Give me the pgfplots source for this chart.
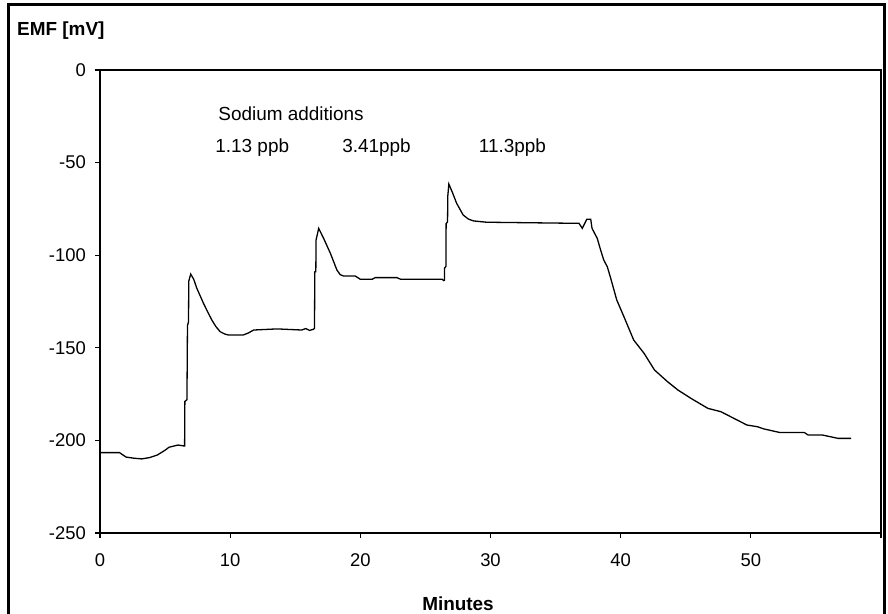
\documentclass[border=0pt]{standalone}
\usepackage{pgfplots}
\pgfplotsset{compat=1.18}
\usepackage{pgfplotstable}
\usepackage{fontspec}
\setmainfont{Liberation Sans}

% EMF trace
\pgfplotstableread{
t v
0 -206.6
1.5 -206.6
2.0 -209.0
2.6 -209.6
3.2 -210.0
3.8 -209.3
4.4 -207.9
5.0 -205.3
5.3 -203.7
5.7 -203.0
6.0 -202.5
6.45 -203.0
6.50 -203.0
6.52 -179
6.68 -178
6.72 -138
6.80 -136
6.82 -114
6.97 -110.2
7.2 -113
7.44 -117.9
7.7 -122
7.95 -126
8.3 -131
8.59 -135
8.9 -138.5
9.23 -141.3
9.6 -142.6
9.87 -143.1
11.0 -143.1
11.4 -142.0
11.8 -140.4
13.6 -139.8
15.5 -140.4
15.8 -139.6
16.1 -140.6
16.4 -140.0
16.48 -139.5
16.50 -109
16.58 -108.9
16.60 -91.8
16.8 -85.5
17.18 -90.9
17.7 -99
18.2 -108
18.45 -110.5
18.7 -111.2
19.6 -111.2
20.0 -113
20.9 -113
21.15 -112.1
22.8 -112.1
23.1 -113
26.3 -113
26.4 -113.7
26.46 -113.5
26.47 -107
26.58 -106
26.59 -83
26.70 -82
26.72 -68
26.8 -61.6
27.05 -65.7
27.4 -72
27.9 -78.3
28.3 -80.5
28.7 -81.5
29.7 -82.2
36.8 -82.8
37.05 -85.5
37.4 -80.6
37.7 -80.6
37.8 -85.5
38.2 -90.9
38.46 -97.2
38.7 -102.6
38.97 -106.2
39.2 -111.6
39.7 -124.2
40.25 -133.2
41.0 -145.8
41.8 -153
42.6 -162
43.6 -168.3
44.4 -172.8
45.4 -177.3
46.7 -182.7
47.7 -184.5
48.7 -188.1
49.7 -191.7
50.5 -192.6
51.0 -193.8
52.2 -195.7
54.1 -195.7
54.4 -197.1
55.5 -197.1
56.7 -198.9
57.7 -198.9
}\emfdata

\newcommand{\lbl}{\fontsize{18.5}{22}\selectfont}

\begin{document}
\begin{tikzpicture}
\useasboundingbox (0,0) rectangle (888bp,614bp);
\fill[white] (0,0) rectangle (888bp,614bp);

\begin{axis}[
    at={(100bp,81bp)}, anchor=south west,
    scale only axis, width=781bp, height=463bp,
    xmin=0, xmax=60, ymin=-250, ymax=0,
    xtick={0,10,...,60}, xticklabels={0,10,20,30,40,50,},
    ytick={-250,-200,...,0},
    axis line style={line width=1.2bp},
    tick style={line width=1.2bp, black},
    tick align=outside, major tick length=5bp,
    xtick pos=bottom, ytick pos=left,
    /pgf/number format/assume math mode=true,
    tick label style={font=\lbl, inner sep=0pt},
    yticklabel style={anchor=east, xshift=-9bp},
    xticklabel style={anchor=north, yshift=-15bp},
    clip=false,
]
\addplot[black, line width=1.3bp, mark=none] table[x=t, y=v] {\emfdata};

\node[anchor=base west, inner sep=0pt, font=\fontsize{19}{22}\selectfont] at (axis cs:9.08,-27) {Sodium additions};
\node[anchor=base west, inner sep=0pt, font=\fontsize{19}{22}\selectfont] at (axis cs:8.85,-44.3) {1.13 ppb};
\node[anchor=base west, inner sep=0pt, font=\fontsize{19}{22}\selectfont] at (axis cs:18.6,-44.3) {3.41ppb};
\node[anchor=base west, inner sep=0pt, font=\fontsize{19}{22}\selectfont] at (axis cs:29.1,-44.3) {11.3ppb};
\end{axis}

\node[anchor=base west, inner sep=0pt, font=\fontsize{19}{22}\selectfont\bfseries] at (17bp,578.4bp) {EMF [mV]};
\node[anchor=base, inner sep=0pt, font=\fontsize{19}{22}\selectfont\bfseries] at (458bp,4bp) {Minutes};

\draw[line width=3bp] (8.5bp,-5bp) -- (8.5bp,609.5bp) -- (884.5bp,609.5bp) -- (884.5bp,-5bp);
\end{tikzpicture}
\end{document}
